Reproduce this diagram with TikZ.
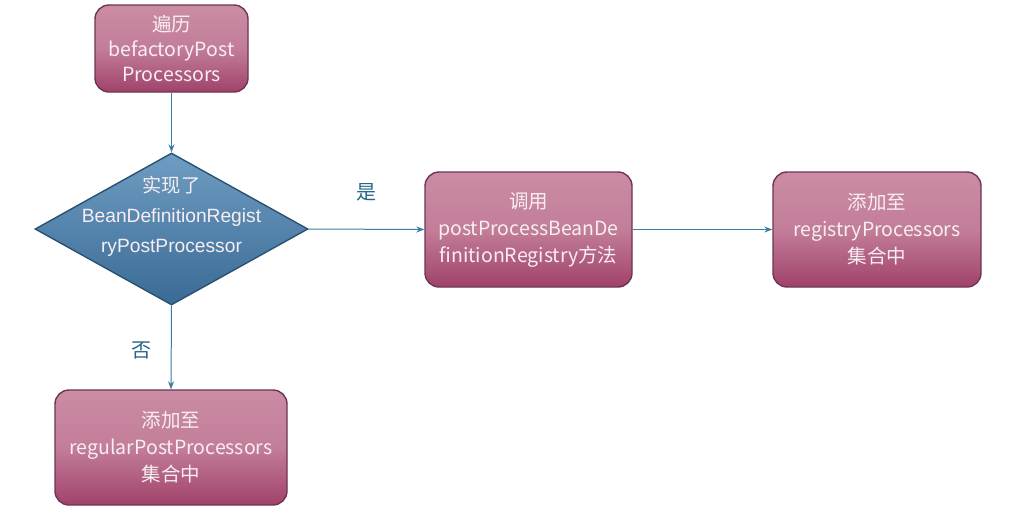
\documentclass[tikz,border=0pt]{standalone}
\usepackage{fontspec}
\setmainfont{Noto Sans CJK SC}
\newfontfamily\arialf{Liberation Sans}
\newfontfamily\cjkf{Noto Sans CJK SC}
\usetikzlibrary{shapes.geometric,arrows.meta}
\definecolor{boxtop}{HTML}{CB8CA5}
\definecolor{boxbot}{HTML}{A0426A}
\definecolor{boxline}{HTML}{6E3553}
\definecolor{dtop}{HTML}{6F9CC2}
\definecolor{dbot}{HTML}{3A6B95}
\definecolor{dline}{HTML}{2B5172}
\definecolor{arrowc}{HTML}{3D7CA3}
\definecolor{txtc}{HTML}{F7EEF2}
\definecolor{lblc}{HTML}{2A6589}
\tikzset{
  procbox/.style={draw=boxline, line width=1.4pt, rounded corners=14pt,
    top color=boxtop, bottom color=boxbot, middle color=boxtop!80!boxbot,
    inner sep=0pt, align=center, text=txtc,
    font=\fontsize{19.5}{27}\selectfont},
  decbox/.style={diamond, draw=dline, line width=1.4pt, top color=dtop, bottom color=dbot,
    inner sep=0pt, minimum width=273pt, minimum height=152pt},
  dectext/.style={align=center, text=txtc, inner sep=0pt,
    font=\arialf\fontsize{19.2}{30}\selectfont},
  flow/.style={draw=arrowc, line width=1pt, -{Stealth[length=8pt,width=6pt]}},
  lbl/.style={text=lblc, font=\fontsize{20}{22}\selectfont, inner sep=0pt}
}
\begin{document}
\begin{tikzpicture}[x=1pt,y=-1pt]
\useasboundingbox[fill=white] (0,0) rectangle (1011,528);
\node[procbox, minimum width=153pt, minimum height=87pt] (b1) at (171.5,48.5)
  {遍历\\[-2pt]befactoryPost\\[-2pt]Processors};
\node[decbox] (d) at (171.5,229) {};
\node[dectext] (dt) at (171.5,216) {{\cjkf 实现了}\\BeanDefinitionRegist\\ryPostProcessor};
\node[procbox, minimum width=207pt, minimum height=115pt] (b2) at (528.5,229.5)
  {调用\\postProcessBeanDe\\finitionRegistry方法};
\node[procbox, minimum width=208pt, minimum height=115pt] (b3) at (877,229.5)
  {添加至\\registryProcessors\\集合中};
\node[procbox, minimum width=232pt, minimum height=115pt] (b4) at (171,447.5)
  {添加至\\regularPostProcessors\\集合中};
\draw[flow] (b1.south) -- (d.north);
\draw[flow] (d.east) -- (b2.west);
\draw[flow] (b2.east) -- (b3.west);
\draw[flow] (d.south) -- (b4.north);
\node[lbl] (yes) at (366,192) {是};
\node[lbl] (no) at (141,350) {否};
\end{tikzpicture}
\end{document}
